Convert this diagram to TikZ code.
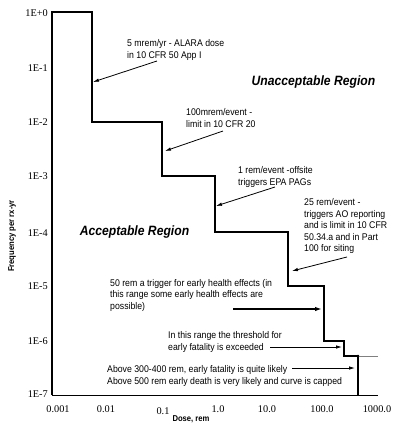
\documentclass[tikz,border=0pt]{standalone}
\usepackage{fontspec}
\setmainfont{Liberation Serif}
\newfontfamily\narrowsans[FakeStretch=0.9]{Liberation Sans}
\usepackage{tikz}
\usetikzlibrary{arrows.meta, positioning, calc}
\tikzset{
  note/.style={font=\narrowsans\fontsize{9.7}{11.5}\selectfont,
               align=left, anchor=north west, inner sep=0pt},
  region/.style={font=\narrowsans\fontsize{13.5}{16}\selectfont\bfseries\itshape,
                 anchor=base, inner sep=0pt},
  tick/.style={font=\fontsize{10.3}{12}\selectfont, inner sep=0pt},
  axlabel/.style={font=\narrowsans\fontsize{8.5}{10}\selectfont\bfseries,
                  inner sep=0pt},
  arrow/.style={-{Latex[length=6pt,width=3.5pt]}, line width=0.8pt},
  bigarrow/.style={-{Latex[length=7pt,width=4.5pt]}, line width=1.8pt},
  curve/.style={line width=2pt, line join=miter},
}
\begin{document}
\begin{tikzpicture}[x=1pt, y=-1pt]
  \useasboundingbox (0,0) rectangle (393,432);

  % axes
  \draw[line width=0.9pt] (52,395) -- (378,395);
  \draw[curve] (52,395) -- (52,12) -- (92,12) -- (92,122) -- (162,122)
    -- (162,176) -- (215,176) -- (215,232) -- (288,232) -- (288,286)
    -- (324,286) -- (324,341) -- (344,341) -- (344,356) -- (358,356)
    -- (358,395);
  \draw[gray, line width=0.6pt] (358,356) -- (378,356);
  \fill (358,356) circle (1.4pt);

  % tick labels
  \foreach \lab/\yy in {1E+0/13, 1E-1/68, 1E-2/122, 1E-3/176,
                        1E-4/233, 1E-5/286, 1E-6/341, 1E-7/394}
    \node[tick, anchor=east] (y\yy) at (48,\yy) {\lab};
  \foreach \lab/\xx/\yy in {0.001/58/409, 0.01/106/409, 0.1/163/411,
                            1.0/218/409, 10.0/267/409, 100.0/322/409,
                            1000.0/377/409}
    \node[tick] (x\xx) at (\xx,\yy) {\lab};

  \node[axlabel] (doselab) at (191,419) {Dose, rem};
  \node[axlabel, rotate=90] (freqlab) at (12,236) {Frequency per rx-yr};

  % regions
  \node[region] (unacc) at (313.5,85) {Unacceptable Region};
  \node[region] (acc) at (134.5,235) {Acceptable Region};

  % notes
  \node[note] (alara) at (127,39.5) {5 mrem/yr - ALARA dose\\in 10 CFR 50 App I};
  \node[note] (cfr20) at (186,108.5) {100mrem/event -\\limit in 10 CFR 20};
  \node[note] (epa) at (238,166.5) {1 rem/event -offsite\\triggers EPA PAGs};
  \node[note] (aorep) at (304,198.5)
    {25 rem/event -\\triggers AO reporting\\and is limit in 10 CFR\\50.34.a and in Part\\100 for siting};
  \node[note] (health) at (110,279)
    {50 rem a trigger for early health effects (in\\this range some early health effects are\\possible)};
  \node[note] (thresh) at (168,331.5)
    {In this range the threshold for\\early fatality is exceeded};
  \node[note] (capped) at (107,365.5)
    {Above 300-400 rem, early fatality is quite likely\\Above 500 rem early death is very likely and curve is capped};

  % arrow ends
  \coordinate (alaras) at (157,61);   \coordinate (alarae) at (93,82);
  \coordinate (cfr20s) at (223,131);  \coordinate (cfr20e) at (165,151);
  \coordinate (epas) at (275,187);    \coordinate (epae) at (216,206);
  \coordinate (aoreps) at (347,257);  \coordinate (aorepe) at (292,271);
  \coordinate (healths) at (233,309); \coordinate (healthe) at (322,309);
  \coordinate (threshs) at (270,347); \coordinate (threshe) at (342,347);
  \coordinate (cappeds) at (292,368); \coordinate (cappede) at (355,368);

  \draw[arrow] (alaras) -- (alarae);
  \draw[arrow] (cfr20s) -- (cfr20e);
  \draw[arrow] (epas) -- (epae);
  \draw[arrow] (aoreps) -- (aorepe);
  \draw[bigarrow] (healths) -- (healthe);
  \draw[arrow] (threshs) -- (threshe);
  \draw[arrow] (cappeds) -- (cappede);
\end{tikzpicture}
\end{document}
